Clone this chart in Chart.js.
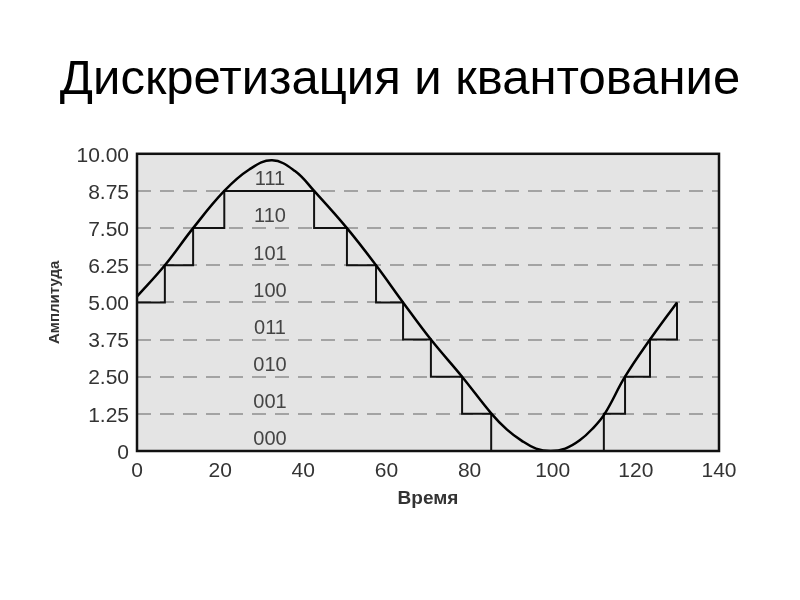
<!DOCTYPE html>
<html>
<head>
<meta charset="utf-8">
<script src="https://cdn.jsdelivr.net/npm/chart.js@4"></script>
<style>
  html, body { margin: 0; padding: 0; background: #fff; }
</style>
</head>
<body>
<canvas id="chart" width="800" height="600"></canvas>
<script>
// Данные
const curveT = [0, 6.7, 13.5, 21, 27, 32.5, 38, 42.6, 50.5, 57.5, 64, 70.7, 78.2, 85.3, 89, 92.5, 96, 99.5, 103, 106.5, 109.5, 112.5, 117.4, 123.4, 129.9];
const curveV = [5.2, 6.25, 7.5, 8.75, 9.47, 9.78, 9.42, 8.75, 7.5, 6.25, 5.0, 3.75, 2.5, 1.25, 0.72, 0.35, 0.08, 0, 0.08, 0.36, 0.74, 1.25, 2.5, 3.75, 5.0];

// Квантованный сигнал: момент смены уровня и новый уровень
const stepT = [0, 6.7, 13.5, 21, 42.6, 50.5, 57.5, 64, 70.7, 78.2, 85.2, 112.3, 117.4, 123.4, 129.9];
const stepV = [5.0, 6.25, 7.5, 8.75, 7.5, 6.25, 5.0, 3.75, 2.5, 1.25, 0, 1.25, 2.5, 3.75, 5.0];

const yTicks = [0, 1.25, 2.5, 3.75, 5, 6.25, 7.5, 8.75, 10];
const xTicks = [0, 20, 40, 60, 80, 100, 120, 140];
const levelCodes = ['000', '001', '010', '011', '100', '101', '110', '111'];

const FONT = '"Liberation Sans", Arial, sans-serif';
const levelStep = 1.25;
const codeLabelT = 32;

const toPoints = (ts, vs) => ts.map((t, i) => ({ x: t, y: vs[i] }));

// Серый фон области графика
const plotBg = {
  id: 'plotBg',
  beforeDraw(chart) {
    const { ctx, chartArea: a } = chart;
    ctx.save();
    ctx.fillStyle = '#e4e4e4';
    ctx.fillRect(a.left, a.top, a.width, a.height);
    ctx.restore();
  }
};

// Коды уровней внутри полос
const codeLabels = {
  id: 'codeLabels',
  beforeDatasetsDraw(chart) {
    const { ctx, scales: { x, y } } = chart;
    ctx.save();
    ctx.font = '20px ' + FONT;
    ctx.fillStyle = '#444';
    ctx.textAlign = 'center';
    ctx.textBaseline = 'middle';
    levelCodes.forEach((code, i) => {
      ctx.fillText(code, x.getPixelForValue(codeLabelT), y.getPixelForValue(i * levelStep + levelStep * 0.3));
    });
    ctx.restore();
  }
};

// Чёрная рамка
const frame = {
  id: 'frame',
  afterDraw(chart) {
    const { ctx, chartArea: a } = chart;
    ctx.save();
    ctx.strokeStyle = '#111';
    ctx.lineWidth = 2.5;
    ctx.strokeRect(a.left, a.top, a.width, a.height);
    ctx.restore();
  }
};

new Chart(document.getElementById('chart'), {
  type: 'line',
  data: {
    datasets: [
      {
        label: 'Сигнал',
        data: toPoints(curveT, curveV),
        borderColor: '#000',
        borderWidth: 2.5,
        pointRadius: 0,
        tension: 0.4,
        fill: false
      },
      {
        label: 'Квантованный',
        data: toPoints(stepT, stepV),
        borderColor: '#111',
        borderWidth: 2,
        pointRadius: 0,
        stepped: 'before',
        fill: false
      }
    ]
  },
  options: {
    responsive: false,
    animation: false,
    layout: { padding: { left: 46, right: 46, top: 0, bottom: 90 } },
    plugins: {
      legend: { display: false },
      tooltip: { enabled: false },
      title: {
        display: true,
        text: 'Дискретизация и квантование',
        color: '#000',
        font: { family: FONT, size: 49, weight: 'normal' },
        padding: { top: 51, bottom: 44 }
      }
    },
    scales: {
      x: {
        type: 'linear',
        min: 0,
        max: 140,
        afterBuildTicks: (s) => { s.ticks = xTicks.map(v => ({ value: v })); },
        afterFit: (s) => { s.height = 59; },
        grid: { display: false },
        border: { display: false },
        ticks: { color: '#333', font: { family: FONT, size: 21 }, padding: 0, maxRotation: 0 },
        title: { display: true, text: 'Время', color: '#333', font: { family: FONT, size: 19, weight: 'bold' }, padding: 0 }
      },
      y: {
        min: 0,
        max: 10,
        afterBuildTicks: (s) => { s.ticks = yTicks.map(v => ({ value: v })); },
        afterFit: (s) => { s.width = 91; },
        grid: { color: '#a3a3a3', lineWidth: 2, drawTicks: false },
        border: { display: false, dash: [14, 9] },
        ticks: {
          color: '#333',
          font: { family: FONT, size: 21 },
          padding: 8,
          labelOffset: 2,
          callback: (v) => v === 0 ? '0' : v.toFixed(2)
        },
        title: { display: true, text: 'Амплитуда', color: '#333', font: { family: FONT, size: 15, weight: 'bold' }, padding: 0 }
      },
      // пустая ось справа — только держит правый отступ
      yRight: {
        position: 'right',
        min: 0,
        max: 10,
        afterFit: (s) => { s.width = 35; },
        grid: { display: false },
        border: { display: false },
        ticks: { display: false }
      }
    }
  },
  plugins: [plotBg, codeLabels, frame]
});
</script>
</body>
</html>
